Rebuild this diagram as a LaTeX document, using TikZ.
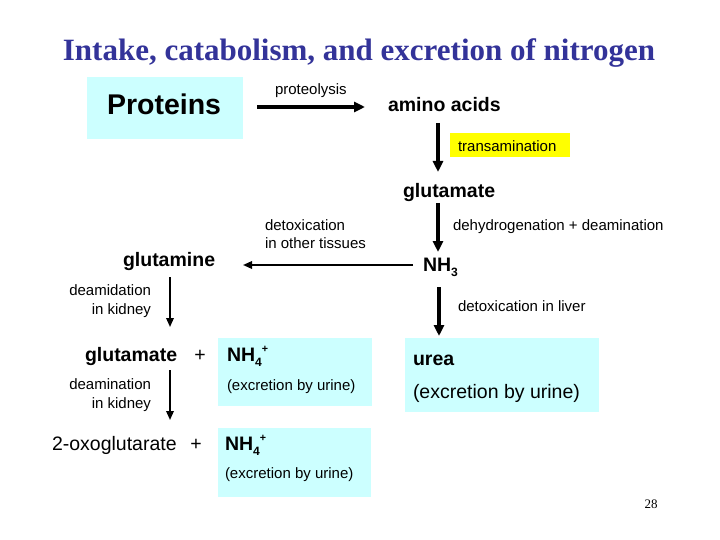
\documentclass[tikz,border=0pt]{standalone}
\usepackage{fontspec}
\setmainfont{Liberation Sans}
\newfontfamily\titlefont{Liberation Serif}
\usepackage{graphicx}
\usetikzlibrary{arrows.meta}
\definecolor{boxcyan}{HTML}{CCFFFF}
\definecolor{hiyellow}{HTML}{FFFF00}
\definecolor{titleblue}{HTML}{333399}
\newcommand\fs[1]{\fontsize{#1}{#1}\selectfont}
\newcommand\subsc[1]{\raisebox{-0.28em}{\scalebox{0.62}{#1}}}
\newcommand\supsc[1]{\raisebox{0.45em}{\scalebox{0.55}{#1}}}
\begin{document}
\begin{tikzpicture}[x=1pt,y=-1pt,
  txt/.style={inner sep=0pt, outer sep=0pt, anchor=base west, font=\fs{15}},
  big/.style={txt, font=\fs{19.5}},
  bigb/.style={txt, font=\fs{19.5}\bfseries},
  bg/.style={fill=boxcyan, draw=none, inner sep=0pt, outer sep=0pt, anchor=north west},
  fatarrow/.style={line width=3.2pt, -{Triangle[length=11pt,width=10pt]}},
  thinarrow/.style={line width=1.7pt, -{Triangle[length=9pt,width=7.5pt]}}]
\useasboundingbox (0,0) rectangle (720,540);
\fill[white] (0,0) rectangle (720,540);
% background boxes
\node[bg, minimum width=156pt, minimum height=62pt] (protbox) at (87,77) {};
\node[bg, fill=hiyellow, minimum width=120pt, minimum height=24pt] (tabox) at (450,133) {};
\node[bg, minimum width=154pt, minimum height=68pt] (nhbox1) at (218,338) {};
\node[bg, minimum width=194pt, minimum height=74pt] (ureabox) at (405,338) {};
\node[bg, minimum width=153pt, minimum height=69pt] (nhbox2) at (218,428) {};
% texts
\node[txt, anchor=base, font=\titlefont\fs{31}\bfseries, text=titleblue] (title) at (359,61) {Intake, catabolism, and excretion of nitrogen};
\node[txt, font=\fs{28.5}\bfseries] (proteins) at (107,115) {Proteins};
\node[txt] (proteolysis) at (275,95) {proteolysis};
\node[bigb] (amino) at (388,112) {amino acids};
\node[txt] (transam) at (458,152) {transamination};
\node[bigb] (glu1) at (403,198) {glutamate};
\node[txt] (detox1) at (265,230) {detoxication};
\node[txt] (detox2) at (265,248) {in other tissues};
\node[txt] (dehyd) at (453,230) {dehydrogenation + deamination};
\node[bigb] (nh3) at (423,271) {NH\subsc{3}};
\node[bigb] (gln) at (123,266) {glutamine};
\node[txt, anchor=base east] (deamid1) at (151,295) {deamidation};
\node[txt, anchor=base east] (deamid2) at (151,314) {in kidney};
\node[txt] (liver) at (458,311) {detoxication in liver};
\node[bigb] (glu2) at (85,361) {glutamate};
\node[big, anchor=base] (plus1) at (200,361) {+};
\node[bigb] (nh4a) at (227,361) {NH\subsc{4}\supsc{+}};
\node[txt] (exc1) at (227,390) {(excretion by urine)};
\node[bigb] (urea) at (413,365) {urea};
\node[big] (exc2) at (413,398) {(excretion by urine)};
\node[txt, anchor=base east] (deamin1) at (151,389) {deamination};
\node[txt, anchor=base east] (deamin2) at (151,408) {in kidney};
\node[big] (oxo) at (52,450) {2-oxoglutarate};
\node[big, anchor=base] (plus2) at (196,450) {+};
\node[bigb] (nh4b) at (225,450) {NH\subsc{4}\supsc{+}};
\node[txt] (exc3) at (225,478) {(excretion by urine)};
\node[txt, anchor=base, font=\titlefont\fs{13}] (page) at (651,508) {28};
% arrow end points
\coordinate (pa1) at (257,107); \coordinate (pa2) at (365,107);
\coordinate (aa1) at (438,123); \coordinate (aa2) at (438,172);
\coordinate (ga1) at (438,203); \coordinate (ga2) at (438,252);
\coordinate (la1) at (439,287); \coordinate (la2) at (439,336);
\coordinate (na1) at (413,265); \coordinate (na2) at (243,265);
\coordinate (da1) at (170,277); \coordinate (da2) at (170,327);
\coordinate (ea1) at (170,370); \coordinate (ea2) at (170,420);
\draw[fatarrow] (pa1) -- (pa2);
\draw[fatarrow] (aa1) -- (aa2);
\draw[fatarrow] (ga1) -- (ga2);
\draw[fatarrow] (la1) -- (la2);
\draw[thinarrow] (na1) -- (na2);
\draw[thinarrow] (da1) -- (da2);
\draw[thinarrow] (ea1) -- (ea2);
\end{tikzpicture}
\end{document}
